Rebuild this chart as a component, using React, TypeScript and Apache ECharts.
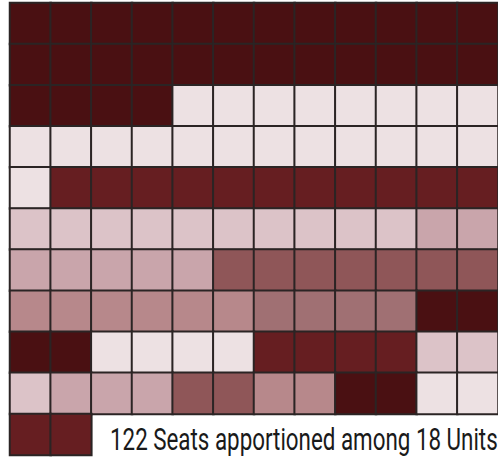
import React, { useEffect, useRef } from "react";
import * as echarts from "echarts";

const unitSeats = [28, 21, 11, 10, 7, 7, 6, 4, 4, 4, 4, 3, 3, 2, 2, 2, 2, 2];
const unitColors = [
  "#4a1012", "#ede1e3", "#661e21", "#dcc3c8", "#c9a5ab", "#8f5658",
  "#b7888b", "#a07073", "#4a1012", "#ede1e3", "#661e21", "#dcc3c8",
  "#c9a5ab", "#8f5658", "#b7888b", "#4a1012", "#ede1e3", "#661e21",
];
const columns = ["1", "2", "3", "4", "5", "6", "7", "8", "9", "10", "11", "12"];
const rows = ["1", "2", "3", "4", "5", "6", "7", "8", "9", "10", "11"];
const title = "122 Seats apportioned among 18 Units";

const FONT_SIZE = 32;
const FONT = "Roboto";

function measure(text: string): number {
  const cv = document.createElement("canvas");
  const ctx = cv.getContext("2d");
  if (!ctx) return text.length * FONT_SIZE * 0.5;
  ctx.font = `normal ${FONT_SIZE}px ${FONT}`;
  return ctx.measureText(text).width;
}

export default function App() {
  const ref = useRef<HTMLDivElement>(null);
  useEffect(() => {
    if (!ref.current) return;
    const chart = echarts.init(ref.current, undefined, { renderer: "svg" });
    const data: any[] = [];
    let k = 0;
    unitSeats.forEach((n, u) => {
      for (let i = 0; i < n; i++) {
        const c = k % columns.length;
        const r = Math.floor(k / columns.length);
        data.push([c, r, u]);
        k++;
      }
    });
    const targetWidth = 388;
    const sx = targetWidth / measure(title);
    chart.setOption({
      animation: false,
      grid: { left: 10, top: 3, width: 492, height: 452 },
      xAxis: { type: "category", data: columns, show: false },
      yAxis: { type: "category", data: rows, inverse: true, show: false },
      visualMap: {
        type: "piecewise",
        show: false,
        dimension: 2,
        pieces: unitColors.map((c, i) => ({ value: i, color: c })),
      },
      series: [
        {
          type: "heatmap",
          data,
          itemStyle: { borderColor: "#2b2424", borderWidth: 2 },
          emphasis: { disabled: true },
        },
      ],
      graphic: [
        {
          type: "text",
          x: 110,
          y: 455,
          scaleX: sx,
          style: {
            text: title,
            x: 0,
            y: 0,
            fontFamily: FONT,
            fontSize: FONT_SIZE,
            fontWeight: "normal",
            verticalAlign: "bottom",
            align: "left",
            fill: "#1a1a1a",
          },
        },
      ],
    });
    return () => chart.dispose();
  }, []);
  return (
    <div
      ref={ref}
      style={{ position: "fixed", left: 0, top: 0, width: 498, height: 458, background: "#fff" }}
    />
  );
}
